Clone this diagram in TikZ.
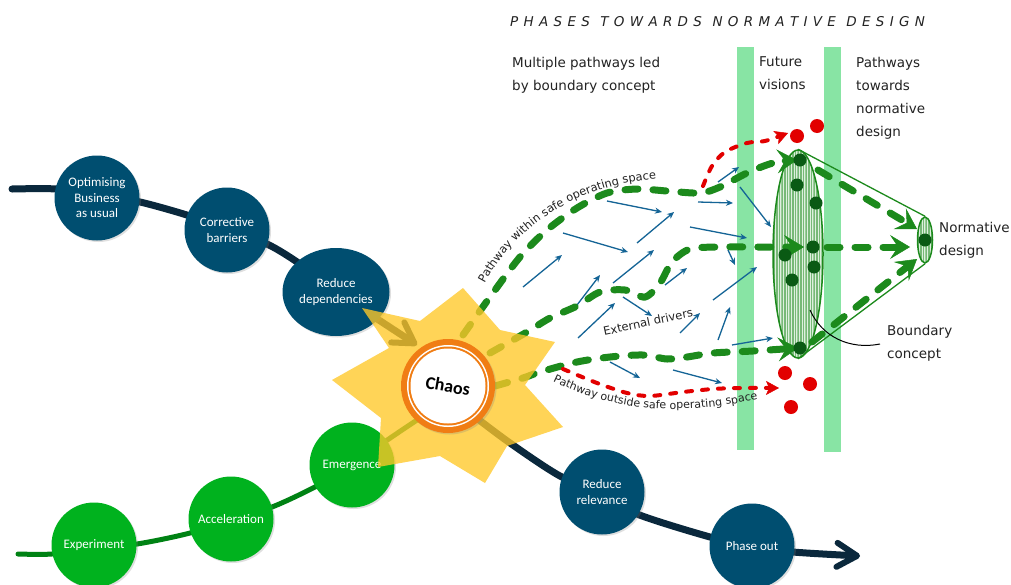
\documentclass[tikz,border=0pt]{standalone}
\usepackage{fontspec}
\setmainfont{DejaVu Sans}
\newfontfamily\calib{Carlito}
\usetikzlibrary{arrows.meta,decorations.text,patterns,patterns.meta,shadows,shapes.geometric}
\definecolor{navy}{RGB}{0,78,112}
\definecolor{navyline}{RGB}{10,40,60}
\definecolor{cgreen}{RGB}{0,178,30}
\definecolor{glinec}{RGB}{0,130,20}
\definecolor{dgreen}{RGB}{28,138,28}
\definecolor{dotgreen}{RGB}{10,90,20}
\definecolor{cred}{RGB}{226,0,0}
\definecolor{cblue}{RGB}{20,100,150}
\definecolor{barg}{RGB}{136,228,164}
\definecolor{staryel}{RGB}{255,200,40}
\definecolor{corange}{RGB}{240,125,20}
\definecolor{txt}{RGB}{35,35,35}
\definecolor{lightg}{RGB}{222,240,222}
\newcommand\lgap{\kern5.3pt}
\newcommand\wgap{\kern10.5pt}
\begin{document}
\begin{tikzpicture}[x=1pt,y=-1pt,
 lbl/.style={font=\fontsize{13.5}{23}\selectfont, text=txt, align=left, inner sep=0pt, anchor=north west},
 bc/.style={circle, fill=navy, minimum size=85pt, inner sep=0pt, text=white, align=center,
   font=\calib\fontsize{13}{15.5}\selectfont,
   drop shadow={opacity=0.25,shadow xshift=1.5pt,shadow yshift=-1.5pt}},
 gc/.style={bc, fill=cgreen},
 navyl/.style={draw=navyline, line width=7pt, line cap=round},
 greenl/.style={draw=glinec, line width=5pt, line cap=round},
 gdash/.style={draw=dgreen, line width=7pt, dash pattern=on 13pt off 15pt, line cap=round,
   -{Stealth[length=20pt,width=24pt,inset=8pt,line width=0.5pt]}},
 rdash/.style={draw=cred, line width=4pt, dash pattern=on 6pt off 10pt, line cap=round,
   -{Stealth[length=13pt,width=14pt,inset=3pt,line width=0.5pt]}},
 barrow/.style={draw=cblue, line width=1.3pt, -{Stealth[length=7pt,width=6pt]}},
 gdot/.style={circle, fill=dotgreen, minimum size=13pt, inner sep=0pt},
 rdot/.style={circle, fill=cred, minimum size=14pt, inner sep=0pt},
 hatch/.style={ellipse, inner sep=0pt, preaction={fill=lightg},
   pattern={Lines[angle=90,distance=1.6pt,line width=0.45pt]}, pattern color=dgreen!60,
   draw=dgreen, line width=1.5pt},
 navytip/.style={-{Straight Barb[length=20pt,width=24pt,line width=6pt,round]}}
]
\fill[white] (0,0) rectangle (1011,584);
\useasboundingbox (0,0) rectangle (1011,584);

% bars
\fill[barg] (737,47) rectangle (754,450);
\fill[barg] (824,47) rectangle (841,452);

% main lines
\draw[navyl] plot[smooth] coordinates {(12,189) (57,189) (97,195) (140,202) (190,216) (227,230) (267,244) (300,264) (336,292)};
\draw[navyl, navytip] (336,292) -- (417,345);
\draw[greenl] plot[smooth] coordinates {(18,554) (52,554) (94,548) (137,544) (190,533) (231,519) (272,507) (315,487) (352,466) (383,443) (420,418)};
\draw[navyl, navytip] plot[smooth] coordinates {(470,413) (510,443) (560,476) (602,493) (637,514) (710,537) (752,546) (793,552) (860,556)};

% circles
\node[bc] (opt) at (97,198) {Optimising\\Business\\as usual};
\node[bc] (cor) at (227,230) {Corrective\\barriers};
\node[bc, ellipse, minimum width=107pt, minimum height=88pt] (red) at (336,292) {Reduce\\dependencies};
\node[bc] (rel) at (602,492) {Reduce\\relevance};
\node[bc] (pho) at (752,546) {Phase out};
\node[gc] (exp) at (94,545) {Experiment};
\node[gc] (acc) at (231,519) {Acceleration};
\node[gc] (eme) at (352,465) {Emergence};

% blue external driver arrows
\foreach \xa/\ya/\xb/\yb in {607/201/662/212, 637/243/674/212, 563/233/628/252, 523/287/562/255,
  690/227/747/238, 698/202/733/203, 718/182/739/167, 740/187/771/227, 613/283/654/250,
  577/305/600/275, 665/285/687/268, 728/250/735/265, 713/300/757/267, 623/297/652/316,
  680/333/700/313, 578/338/615/303, 718/340/730/307, 732/345/773/338, 610/362/640/378,
  673/370/722/383}
  \draw[barrow] (\xa,\ya) -- (\xb,\yb);

% boundary concept cone
\node[hatch, minimum width=50pt, minimum height=208pt] (bc1) at (798,254) {};
\node[hatch, minimum width=15pt, minimum height=46pt] (nd) at (925,240) {};
\draw[dgreen, line width=1.3pt] (bc1.north) -- (nd.north);
\draw[dgreen, line width=1.3pt] (bc1.south) -- (nd.south);

% green pathways
\draw[gdash] plot[smooth] coordinates {(463,335) (490,297) (520,257) (547,230) (577,208) (607,193) (637,189) (667,191) (700,193) (720,187) (747,173) (773,163) (797,160)};
\draw[gdash] plot[smooth] coordinates {(490,353) (527,332) (550,318) (577,306) (600,292) (625,290) (645,297) (660,283) (672,262) (690,249) (720,247) (760,247) (804,247)};
\draw[gdash] plot[smooth] coordinates {(495,386) (523,378) (540,372) (577,362) (610,357) (643,355) (667,359) (687,357) (713,353) (753,351) (798,348)};
\draw[gdash] (818,170) -- (917,229);
\draw[gdash] (812,342) -- (917,259);
\draw[gdash] (827,247) -- (910,247);

% red pathways
\draw[rdash] plot[smooth] coordinates {(563,369) (597,383) (627,393) (650,396) (683,392) (713,389) (740,388) (779,388)};
\draw[rdash] plot[smooth] coordinates {(703,186) (712,166) (725,152) (747,143) (765,141) (788,133)};

% dots
\foreach \p in {(800,160),(797,185),(816,203),(813,247),(785,255),(814,267),(792,280),(800,348),(925,240)}
  \node[gdot] at \p {};
\foreach \p in {(797,136),(817,126),(785,373),(810,384),(791,407)}
  \node[rdot] at \p {};

% star
\fill[staryel, opacity=0.78] (463,288) -- (500,330) -- (555,342) -- (525,385) -- (563,427) -- (507,446)
  -- (485,483) -- (440,456) -- (378,467) -- (381,418) -- (332,380) -- (389,348) -- (362,308) -- (420,321) -- cycle;

% chaos
\node[circle, fill=corange, minimum size=94pt, inner sep=0pt, drop shadow={opacity=0.25,shadow xshift=1.5pt,shadow yshift=-1.5pt}] (chaos) at (448,386) {};
\node[circle, fill=white, minimum size=82pt, inner sep=0pt] at (chaos) {};
\node[circle, fill=corange, minimum size=79pt, inner sep=0pt] at (chaos) {};
\node[circle, fill=white, minimum size=75pt, inner sep=0pt] at (chaos) {};
\node[font=\calib\bfseries\fontsize{18}{18}\selectfont, rotate=-10] at (chaos) {Chaos};

% boundary concept pointer
\draw[black, line width=1pt] (810,310) .. controls (822,337) and (850,350) .. (880,344);

% texts
\node[anchor=base west, inner sep=0pt, text=txt, font=\fontsize{13.5}{14}\selectfont\itshape] (title) at (510,26)
 {P\lgap H\lgap A\lgap S\lgap E\lgap S\wgap T\lgap O\lgap W\lgap A\lgap R\lgap D\lgap S\wgap N\lgap O\lgap R\lgap M\lgap A\lgap T\lgap I\lgap V\lgap E\wgap D\lgap E\lgap S\lgap I\lgap G\lgap N};
\node[lbl] (mp) at (512,56.7) {Multiple pathways led\\by boundary concept};
\node[lbl] (fv) at (759,56.7) {Future\\visions};
\node[lbl] (pt) at (856,56.7) {Pathways\\towards\\normative\\design};
\node[lbl] (ndt) at (939,221.7) {Normative\\design};
\node[lbl] (bct) at (887,324.7) {Boundary\\concept};
\node[font=\fontsize{11.5}{12}\selectfont, text=txt, rotate=12, inner sep=0pt] (ext) at (648,322) {External drivers};

\path[decorate, decoration={text along path, text align=center,
  text={|\fontsize{11.4}{12}\selectfont\color{txt}|Pathway within safe operating space}}]
  (481,291) .. controls (506,238) and (565,184) .. (664,178);
\path[decorate, decoration={text along path, text align=center,
  text={|\fontsize{11}{12}\selectfont\color{txt}|Pathway outside safe operating space}}]
  (550,380) .. controls (588,399) and (630,409) .. (672,409) .. controls (712,409) and (736,403) .. (761,399);
\end{tikzpicture}
\end{document}
